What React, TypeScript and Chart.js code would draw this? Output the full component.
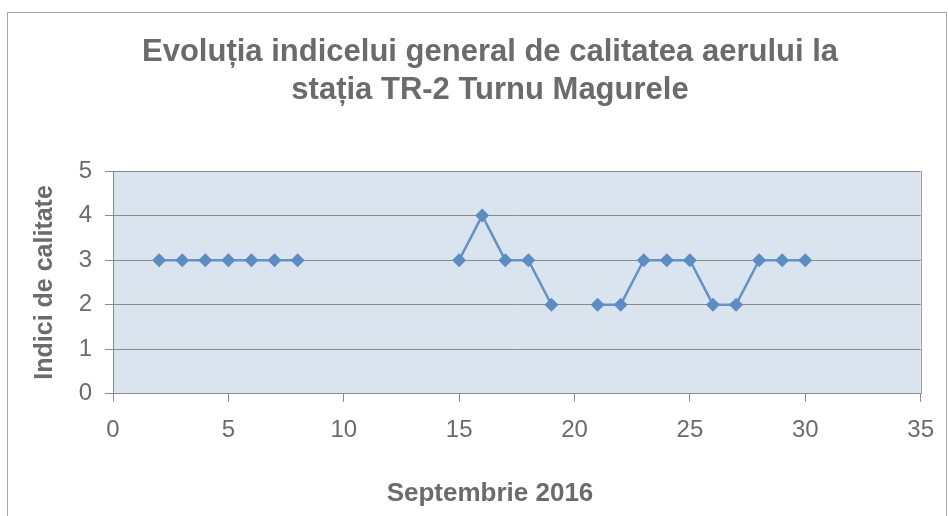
import React, { useEffect, useRef } from "react";
import { Chart, registerables } from "chart.js";

Chart.register(...registerables);

const TITLE_LINES = ["Evoluția indicelui general de calitatea aerului la", "stația TR-2 Turnu Magurele"];
const X_TITLE = "Septembrie 2016";
const Y_TITLE = "Indici de calitate";
const DAYS = [1, 2, 3, 4, 5, 6, 7, 8, 9, 10, 11, 12, 13, 14, 15, 16, 17, 18, 19, 20, 21, 22, 23, 24, 25, 26, 27, 28, 29, 30];
const VALUES: (number | null)[] = [null, 3, 3, 3, 3, 3, 3, 3, null, null, null, null, null, null, 3, 4, 3, 3, 2, null, 2, 2, 3, 3, 3, 2, 2, 3, 3, 3];
const X_MIN = 0, X_MAX = 35, X_STEP = 5;
const Y_MIN = 0, Y_MAX = 5, Y_STEP = 1;

const FONT = "'Liberation Sans', Arial, sans-serif";
const TEXT = "#6b6b6b";
const GRID = "#8a8a8a";

const framePlugin = {
  id: "frame",
  beforeDraw(chart: any) {
    const { ctx, chartArea: a } = chart;
    ctx.save();
    ctx.fillStyle = "#ffffff";
    ctx.fillRect(0, 0, chart.width, chart.height);
    ctx.strokeStyle = "#a8a8a8";
    ctx.lineWidth = 1;
    ctx.strokeRect(7.5, 12.5, 939, 520);
    ctx.fillStyle = "#dae4ef";
    ctx.fillRect(a.left, a.top, a.right - a.left, a.bottom - a.top);
    ctx.restore();
  },
  afterDraw(chart: any) {
    const { ctx, chartArea: a } = chart;
    ctx.save();
    ctx.strokeStyle = "#9a9a9a";
    ctx.lineWidth = 1;
    ctx.beginPath();
    ctx.moveTo(Math.round(a.right) + 0.5, a.top);
    ctx.lineTo(Math.round(a.right) + 0.5, a.bottom);
    ctx.stroke();
    ctx.restore();
  },
};

export default function App() {
  const ref = useRef<HTMLCanvasElement>(null);
  useEffect(() => {
    document.body.style.margin = "0";
    const chart = new Chart(ref.current!, {
      type: "line",
      data: {
        datasets: [
          {
            data: DAYS.map((d, i) => ({ x: d, y: VALUES[i] })) as any,
            borderColor: "#6393c9",
            backgroundColor: "#5b8cc4",
            borderWidth: 2.5,
            pointStyle: "rectRot",
            pointRadius: 7,
            pointBorderWidth: 0,
            spanGaps: false,
            tension: 0,
          },
        ],
      },
      options: {
        responsive: false,
        animation: false,
        layout: { padding: { left: 32, right: 0, top: 0, bottom: 0 } },
        plugins: {
          legend: { display: false },
          tooltip: { enabled: false },
          title: {
            display: true,
            text: TITLE_LINES,
            color: TEXT,
            font: { family: FONT, size: 31, weight: "bold", lineHeight: 1.226 },
            padding: { top: 33, bottom: 62 },
          },
          subtitle: {
            display: true,
            position: "bottom",
            text: X_TITLE,
            color: TEXT,
            font: { family: FONT, size: 26, weight: "bold", lineHeight: 1.2 },
            padding: { top: 0, bottom: 7 },
          },
        },
        scales: {
          x: {
            type: "linear",
            min: X_MIN,
            max: X_MAX,
            ticks: { stepSize: X_STEP, color: TEXT, font: { family: FONT, size: 24 }, padding: 14 },
            grid: { drawOnChartArea: false, drawTicks: true, tickLength: 8, color: GRID },
            border: { color: GRID },
            afterFit: (s: any) => { s.height = 84; },
          },
          y: {
            min: Y_MIN,
            max: Y_MAX,
            ticks: { stepSize: Y_STEP, color: TEXT, font: { family: FONT, size: 24 }, padding: 13 },
            grid: { color: GRID, tickLength: 8 },
            border: { color: GRID },
            title: {
              display: true,
              text: Y_TITLE,
              color: TEXT,
              font: { family: FONT, size: 25, weight: "bold", lineHeight: 1.2 },
              padding: { top: -2, bottom: 0 },
            },
            afterFit: (s: any) => { s.width = 81; },
          },
          pad: {
            position: "right",
            display: true,
            ticks: { display: false },
            grid: { display: false },
            border: { display: false },
            afterFit: (s: any) => { s.width = 22; },
          },
        },
      },
      plugins: [framePlugin],
    });
    return () => chart.destroy();
  }, []);
  return (
    <div style={{ position: "fixed", left: 0, top: 0, width: 948, height: 516 }}>
      <canvas ref={ref} width={948} height={516} />
    </div>
  );
}
